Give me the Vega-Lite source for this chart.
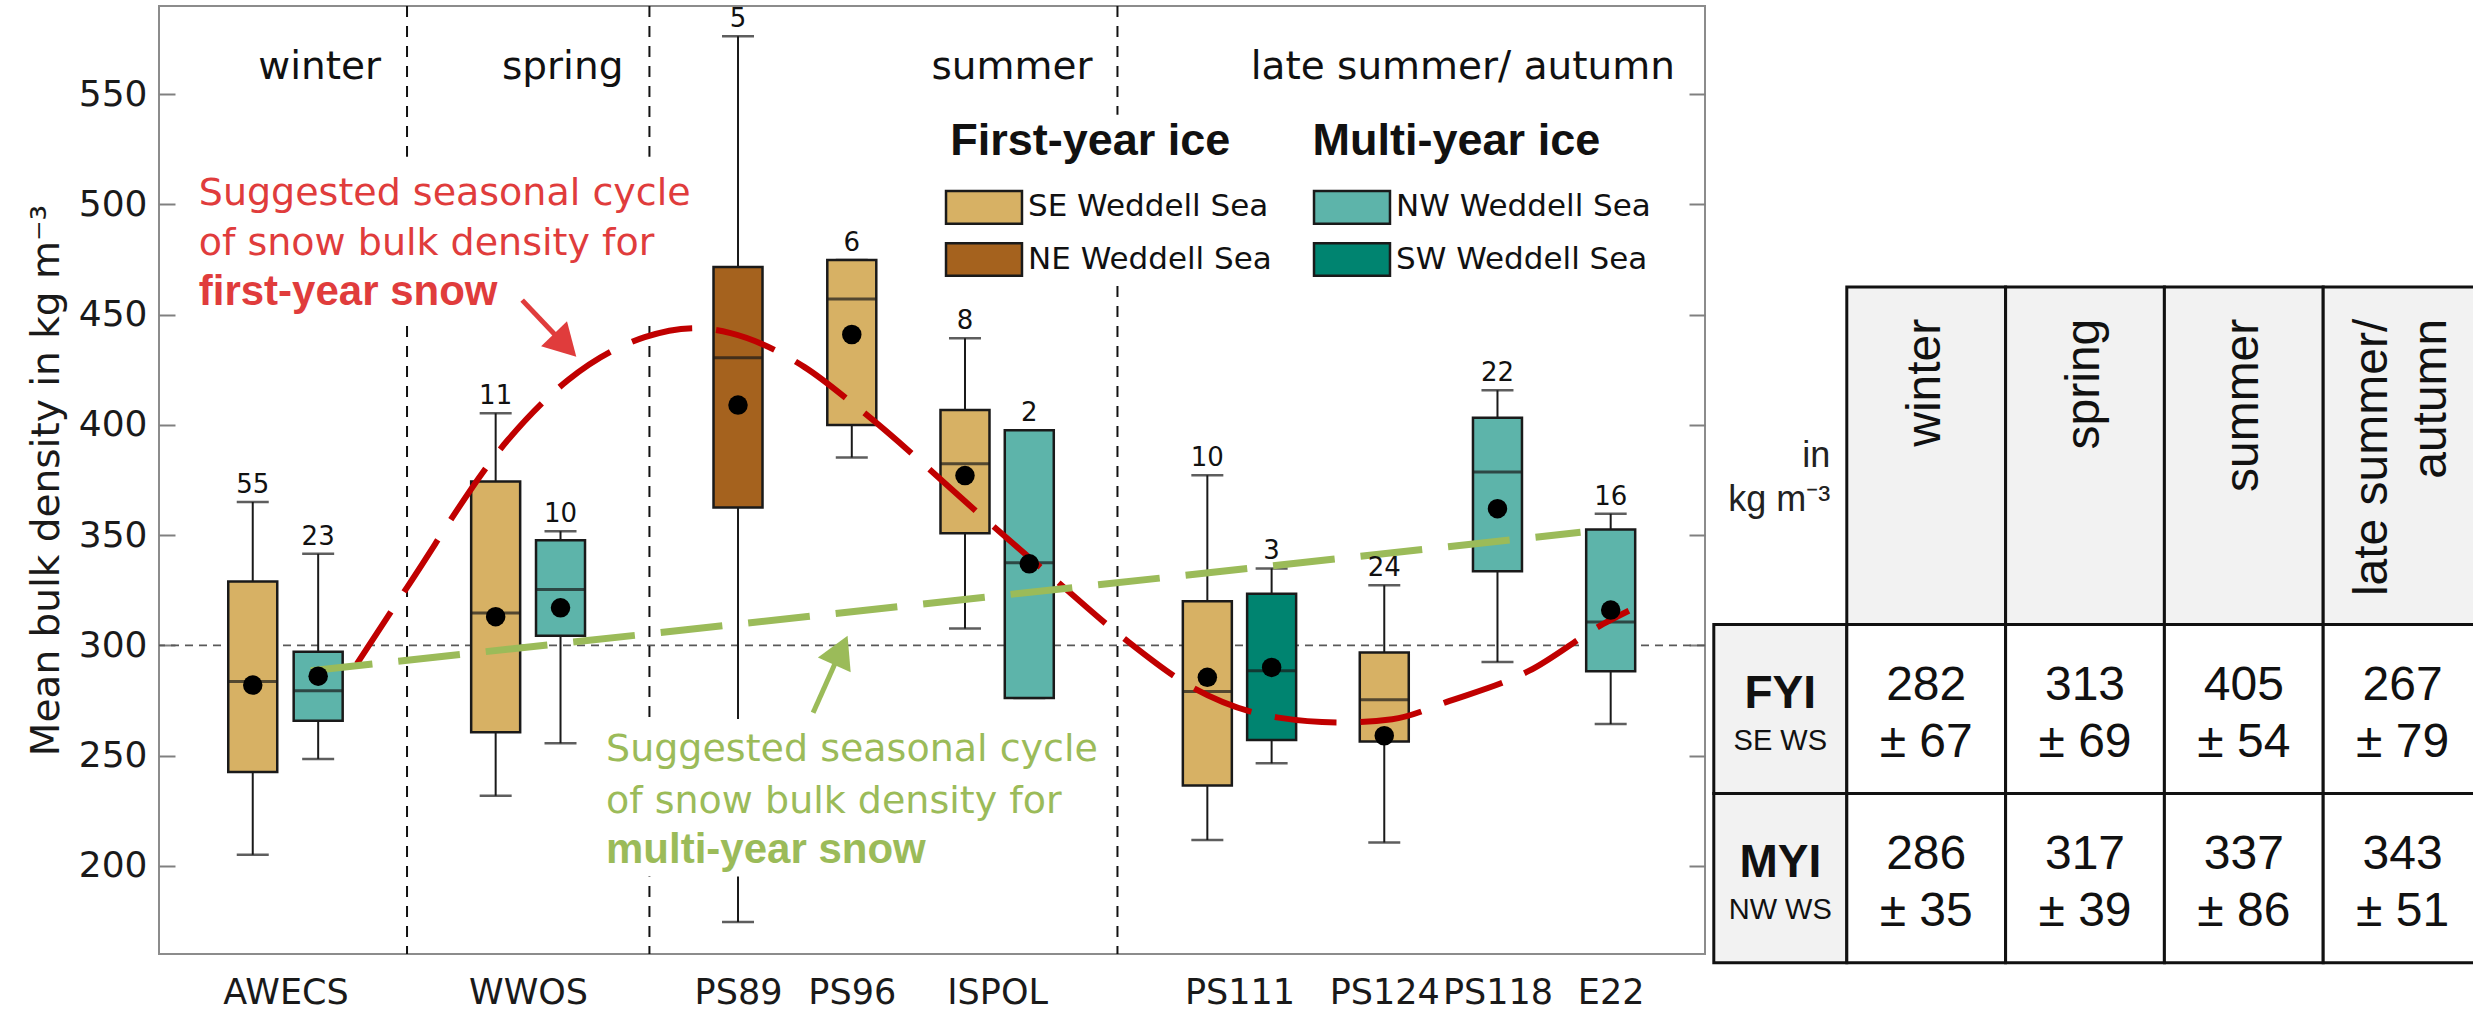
{
  "$schema": "https://vega.github.io/schema/vega-lite/v6.json",
  "width": 1546,
  "height": 948,
  "autosize": {"type": "none"},
  "padding": {"left": 159, "top": 6, "right": 768, "bottom": 57},
  "background": "white",
  "config": {
    "view": {"stroke": "#8c8c8c", "strokeWidth": 2},
    "font": "DejaVu Sans"
  },
  "datasets": {
    "boxes": [
      {"site": "AWECS", "region": "SE Weddell Sea", "ice": "FYI", "pos": 1.56, "wlo": 205, "q1": 242.5, "med": 283.6, "q3": 329, "whi": 365, "mean": 282, "n": 55},
      {"site": "AWECS", "region": "NW Weddell Sea", "ice": "MYI", "pos": 2.71, "wlo": 248.5, "q1": 265.8, "med": 279.4, "q3": 297.1, "whi": 341.5, "mean": 286, "n": 23},
      {"site": "WWOS", "region": "SE Weddell Sea", "ice": "FYI", "pos": 5.83, "wlo": 231.8, "q1": 260.6, "med": 314.7, "q3": 374.3, "whi": 405.3, "mean": 313, "n": 11},
      {"site": "WWOS", "region": "NW Weddell Sea", "ice": "MYI", "pos": 6.97, "wlo": 255.6, "q1": 304.4, "med": 325.3, "q3": 347.7, "whi": 351.8, "mean": 317, "n": 10},
      {"site": "PS89", "region": "NE Weddell Sea", "ice": "FYI", "pos": 10.09, "wlo": 174.5, "q1": 362.5, "med": 430.4, "q3": 471.6, "whi": 576.3, "mean": 409, "n": 5},
      {"site": "PS96", "region": "SE Weddell Sea", "ice": "FYI", "pos": 12.09, "wlo": 385.2, "q1": 400, "med": 457.1, "q3": 474.8, "whi": 474.8, "mean": 441, "n": 6},
      {"site": "ISPOL", "region": "SE Weddell Sea", "ice": "FYI", "pos": 14.08, "wlo": 307.6, "q1": 350.8, "med": 382.4, "q3": 406.8, "whi": 439.3, "mean": 377, "n": 8},
      {"site": "ISPOL", "region": "NW Weddell Sea", "ice": "MYI", "pos": 15.21, "wlo": 276.1, "q1": 276.1, "med": 337.5, "q3": 397.6, "whi": 397.6, "mean": 337, "n": 2},
      {"site": "PS111", "region": "SE Weddell Sea", "ice": "FYI", "pos": 18.34, "wlo": 211.7, "q1": 236.4, "med": 279.1, "q3": 320, "whi": 377.1, "mean": 285.5, "n": 10},
      {"site": "PS111", "region": "SW Weddell Sea", "ice": "MYI", "pos": 19.47, "wlo": 246.5, "q1": 257.1, "med": 288.5, "q3": 323.4, "whi": 334.9, "mean": 290, "n": 3},
      {"site": "PS124", "region": "SE Weddell Sea", "ice": "FYI", "pos": 21.45, "wlo": 210.6, "q1": 256.4, "med": 275.3, "q3": 296.8, "whi": 327.3, "mean": 259, "n": 24},
      {"site": "PS118", "region": "NW Weddell Sea", "ice": "MYI", "pos": 23.44, "wlo": 292.5, "q1": 333.6, "med": 378.6, "q3": 403.2, "whi": 415.7, "mean": 362, "n": 22},
      {"site": "E22", "region": "NW Weddell Sea", "ice": "MYI", "pos": 25.43, "wlo": 264.3, "q1": 288.2, "med": 310.6, "q3": 352.6, "whi": 359.7, "mean": 316, "n": 16}
    ],
    "fyiCycle": [
      {"pos": 3.39, "density": 291.6}, {"pos": 4.27, "density": 326.2}, {"pos": 6.04, "density": 393.0},
      {"pos": 7.10, "density": 420.3}, {"pos": 8.45, "density": 439.8}, {"pos": 9.35, "density": 443.9},
      {"pos": 9.96, "density": 441.6}, {"pos": 11.26, "density": 426.2}, {"pos": 12.21, "density": 407.5},
      {"pos": 14.52, "density": 355.3}, {"pos": 15.68, "density": 329.4}, {"pos": 16.88, "density": 303.0},
      {"pos": 18.08, "density": 280.9}, {"pos": 19.59, "density": 267.2}, {"pos": 20.69, "density": 265.0},
      {"pos": 21.59, "density": 266.5}, {"pos": 22.60, "density": 274.8}, {"pos": 24.00, "density": 288.5},
      {"pos": 25.30, "density": 309.7}, {"pos": 25.75, "density": 315.7}
    ],
    "myiCycle": [
      {"pos": 2.58, "density": 288.5}, {"pos": 24.9, "density": 351.3}
    ],
    "seasons": [
      {"season": "winter"}, {"season": "spring"}, {"season": "summer"}, {"season": "late summer/\nautumn"}
    ],
    "iceRows": [
      {"ice": "FYI", "region": "SE WS"}, {"ice": "MYI", "region": "NW WS"}
    ],
    "seasonMeans": [
      {"ice": "FYI", "season": "winter", "mean": 282, "sd": 67},
      {"ice": "FYI", "season": "spring", "mean": 313, "sd": 69},
      {"ice": "FYI", "season": "summer", "mean": 405, "sd": 54},
      {"ice": "FYI", "season": "late summer/\nautumn", "mean": 267, "sd": 79},
      {"ice": "MYI", "season": "winter", "mean": 286, "sd": 35},
      {"ice": "MYI", "season": "spring", "mean": 317, "sd": 39},
      {"ice": "MYI", "season": "summer", "mean": 337, "sd": 86},
      {"ice": "MYI", "season": "late summer/\nautumn", "mean": 343, "sd": 51}
    ]
  },
  "layer": [
    {
      "layer": [
        {
          "data": {"values": [{}]},
          "mark": {"type": "rule", "color": "#595959", "strokeWidth": 1.6, "strokeDash": [8, 6]},
          "encoding": {
            "y": {
              "datum": 300, "type": "quantitative",
              "scale": {"domain": [160, 590], "nice": false, "zero": false},
              "axis": {"orient": "right", "values": [200, 250, 300, 350, 400, 450, 500, 550], "tickSize": -16, "tickColor": "#808080", "tickWidth": 2, "labels": false, "domain": false, "grid": false, "title": null}
            }
          }
        },
        {
          "layer": [
            {
              "data": {"values": [{"boundary": 4.272}, {"boundary": 8.533}, {"boundary": 16.76}]},
              "mark": {"type": "rule", "color": "#111111", "strokeWidth": 2, "strokeDash": [11, 9]},
              "encoding": {
                "x": {"field": "boundary", "type": "quantitative", "scale": {"domain": [0, 27], "nice": false, "zero": false}}
              }
            },
            {
              "data": {"name": "boxes"},
              "mark": {"type": "rule", "color": "#1a1a1a", "strokeWidth": 2},
              "encoding": {
                "x": {
                  "field": "pos", "type": "quantitative",
                  "axis": {
                    "values": [2.135, 6.40, 10.09, 12.09, 14.645, 18.905, 21.45, 23.44, 25.43],
                    "labelExpr": "datum.value < 4 ? 'AWECS' : datum.value < 8 ? 'WWOS' : datum.value < 11 ? 'PS89' : datum.value < 13 ? 'PS96' : datum.value < 16 ? 'ISPOL' : datum.value < 20 ? 'PS111' : datum.value < 22.5 ? 'PS124' : datum.value < 24.5 ? 'PS118' : 'E22'",
                    "ticks": false, "domain": false, "grid": false, "title": null,
                    "labelFont": "DejaVu Sans", "labelFontSize": 35, "labelColor": "#1a1a1a",
                    "labelPadding": 21, "labelOverlap": false, "labelBound": false, "labelFlush": false
                  }
                },
                "y": {
                  "field": "wlo", "type": "quantitative",
                  "axis": {
                    "orient": "left", "values": [200, 250, 300, 350, 400, 450, 500, 550],
                    "tickSize": -16, "tickColor": "#808080", "tickWidth": 2, "domain": false, "grid": false,
                    "labelFont": "DejaVu Sans", "labelFontSize": 36, "labelColor": "#1a1a1a", "labelPadding": 28,
                    "title": "Mean bulk density in kg m⁻³", "titleFont": "DejaVu Sans", "titleFontSize": 39,
                    "titleFontWeight": "normal", "titleColor": "#1a1a1a", "titlePadding": 12
                  }
                },
                "y2": {"field": "whi"}
              }
            },
            {
              "data": {"name": "boxes"},
              "mark": {"type": "tick", "orient": "horizontal", "size": 32, "thickness": 2.5, "color": "#1a1a1a"},
              "encoding": {
                "x": {"field": "pos", "type": "quantitative"},
                "y": {"field": "wlo", "type": "quantitative"}
              }
            },
            {
              "data": {"name": "boxes"},
              "mark": {"type": "tick", "orient": "horizontal", "size": 32, "thickness": 2.5, "color": "#1a1a1a"},
              "encoding": {
                "x": {"field": "pos", "type": "quantitative"},
                "y": {"field": "whi", "type": "quantitative"}
              }
            },
            {
              "data": {"name": "boxes"},
              "mark": {"type": "bar", "width": 49, "stroke": "#1a1a1a", "strokeWidth": 2.5, "opacity": 1},
              "encoding": {
                "x": {"field": "pos", "type": "quantitative"},
                "y": {"field": "q1", "type": "quantitative"},
                "y2": {"field": "q3"},
                "color": {
                  "field": "region", "type": "nominal",
                  "scale": {
                    "domain": ["SE Weddell Sea", "NE Weddell Sea", "NW Weddell Sea", "SW Weddell Sea"],
                    "range": ["#D7B164", "#A5621E", "#5DB4AA", "#008470"]
                  },
                  "legend": {
                    "orient": "none", "legendX": 807, "legendY": 183, "columns": 2, "title": null,
                    "padding": 0, "symbolType": "M-2.33,-1H2.33V1H-2.33Z", "symbolSize": 1063,
                    "symbolStrokeColor": "#1a1a1a", "symbolStrokeWidth": 2.5, "symbolOpacity": 1,
                    "labelFont": "DejaVu Sans", "labelFontSize": 31, "labelColor": "#111111",
                    "labelOffset": 26, "labelLimit": 500, "rowPadding": 8.5, "columnPadding": 37
                  }
                }
              }
            },
            {
              "data": {"name": "boxes"},
              "mark": {"type": "tick", "orient": "horizontal", "size": 49, "thickness": 3, "color": "#1a1a1a"},
              "encoding": {
                "x": {"field": "pos", "type": "quantitative"},
                "y": {"field": "med", "type": "quantitative"}
              }
            },
            {
              "data": {"values": [{}]},
              "mark": {"type": "rect", "color": "white"},
              "encoding": {"x": {"datum": 0.45}, "x2": {"datum": 9.36}, "y": {"datum": 446.6}, "y2": {"datum": 521.6}}
            },
            {
              "data": {"values": [{}]},
              "mark": {"type": "rect", "color": "white"},
              "encoding": {"x": {"datum": 7.61}, "x2": {"datum": 16.52}, "y": {"datum": 195.2}, "y2": {"datum": 266.6}}
            },
            {
              "data": {"values": [{}]},
              "mark": {"type": "rect", "color": "white"},
              "encoding": {"x": {"datum": 13.7}, "x2": {"datum": 26.7}, "y": {"datum": 464.4}, "y2": {"datum": 540.7}}
            },
            {
              "data": {"values": [{}]},
              "mark": {"type": "text", "text": "Suggested seasonal cycle", "align": "left", "baseline": "alphabetic", "font": "DejaVu Sans", "fontSize": 38, "color": "#E03C3C"},
              "encoding": {"x": {"datum": 0.611}, "y": {"datum": 499.8}}
            },
            {
              "data": {"values": [{}]},
              "mark": {"type": "text", "text": "of snow bulk density for", "align": "left", "baseline": "alphabetic", "font": "DejaVu Sans", "fontSize": 38, "color": "#E03C3C"},
              "encoding": {"x": {"datum": 0.611}, "y": {"datum": 477.1}}
            },
            {
              "data": {"values": [{}]},
              "mark": {"type": "text", "text": "first-year snow", "align": "left", "baseline": "alphabetic", "font": "Liberation Sans", "fontWeight": "bold", "fontSize": 42, "color": "#E03C3C"},
              "encoding": {"x": {"datum": 0.611}, "y": {"datum": 454.4}}
            },
            {
              "data": {"values": [{}]},
              "mark": {"type": "text", "text": "Suggested seasonal cycle", "align": "left", "baseline": "alphabetic", "font": "DejaVu Sans", "fontSize": 38, "color": "#9BBB59"},
              "encoding": {"x": {"datum": 7.77}, "y": {"datum": 247.5}}
            },
            {
              "data": {"values": [{}]},
              "mark": {"type": "text", "text": "of snow bulk density for", "align": "left", "baseline": "alphabetic", "font": "DejaVu Sans", "fontSize": 38, "color": "#9BBB59"},
              "encoding": {"x": {"datum": 7.77}, "y": {"datum": 224.0}}
            },
            {
              "data": {"values": [{}]},
              "mark": {"type": "text", "text": "multi-year snow", "align": "left", "baseline": "alphabetic", "font": "Liberation Sans", "fontWeight": "bold", "fontSize": 42, "color": "#9BBB59"},
              "encoding": {"x": {"datum": 7.77}, "y": {"datum": 201.3}}
            },
            {
              "data": {"values": [{}]},
              "mark": {"type": "text", "text": "winter", "align": "right", "baseline": "alphabetic", "dx": -26, "font": "DejaVu Sans", "fontSize": 39, "color": "#111111"},
              "encoding": {"x": {"datum": 4.272}, "y": {"datum": 557.1}}
            },
            {
              "data": {"values": [{}]},
              "mark": {"type": "text", "text": "spring", "align": "right", "baseline": "alphabetic", "dx": -26, "font": "DejaVu Sans", "fontSize": 39, "color": "#111111"},
              "encoding": {"x": {"datum": 8.533}, "y": {"datum": 557.1}}
            },
            {
              "data": {"values": [{}]},
              "mark": {"type": "text", "text": "summer", "align": "right", "baseline": "alphabetic", "dx": -25, "font": "DejaVu Sans", "fontSize": 39, "color": "#111111"},
              "encoding": {"x": {"datum": 16.76}, "y": {"datum": 557.1}}
            },
            {
              "data": {"values": [{}]},
              "mark": {"type": "text", "text": "late summer/ autumn", "align": "right", "baseline": "alphabetic", "dx": -25, "font": "DejaVu Sans", "fontSize": 39, "color": "#111111"},
              "encoding": {"x": {"datum": 27}, "y": {"datum": 557.1}}
            },
            {
              "data": {"values": [{}]},
              "mark": {"type": "text", "text": "First-year ice", "align": "left", "baseline": "alphabetic", "font": "Liberation Sans", "fontWeight": "bold", "fontSize": 45, "color": "#111111"},
              "encoding": {"x": {"datum": 13.82}, "y": {"datum": 522.5}}
            },
            {
              "data": {"values": [{}]},
              "mark": {"type": "text", "text": "Multi-year ice", "align": "left", "baseline": "alphabetic", "font": "Liberation Sans", "fontWeight": "bold", "fontSize": 45, "color": "#111111"},
              "encoding": {"x": {"datum": 20.19}, "y": {"datum": 522.5}}
            },
            {
              "data": {"name": "fyiCycle"},
              "mark": {"type": "line", "color": "#C00000", "strokeWidth": 6, "strokeDash": [62, 24], "strokeCap": "butt", "interpolate": "monotone"},
              "encoding": {
                "x": {"field": "pos", "type": "quantitative"},
                "y": {"field": "density", "type": "quantitative"}
              }
            },
            {
              "data": {"name": "myiCycle"},
              "mark": {"type": "line", "color": "#9BBB59", "strokeWidth": 7, "strokeDash": [62, 26], "strokeCap": "butt"},
              "encoding": {
                "x": {"field": "pos", "type": "quantitative"},
                "y": {"field": "density", "type": "quantitative"}
              }
            },
            {
              "data": {"values": [{}]},
              "mark": {"type": "rule", "color": "#E03C3C", "strokeWidth": 5},
              "encoding": {"x": {"datum": 6.296}, "y": {"datum": 456.6}, "x2": {"datum": 7.003}, "y2": {"datum": 437.4}}
            },
            {
              "data": {"values": [{}]},
              "mark": {"type": "point", "shape": "M0,-1L0.9,0.6L-0.9,0.6Z", "size": 1600, "angle": 136, "filled": true, "color": "#E03C3C", "opacity": 1, "strokeWidth": 0},
              "encoding": {"x": {"datum": 7.003}, "y": {"datum": 437.4}}
            },
            {
              "data": {"values": [{}]},
              "mark": {"type": "rule", "color": "#9BBB59", "strokeWidth": 5},
              "encoding": {"x": {"datum": 11.41}, "y": {"datum": 269.4}, "x2": {"datum": 11.87}, "y2": {"datum": 296.1}}
            },
            {
              "data": {"values": [{}]},
              "mark": {"type": "point", "shape": "M0,-1L0.9,0.6L-0.9,0.6Z", "size": 1600, "angle": 24.5, "filled": true, "color": "#9BBB59", "opacity": 1, "strokeWidth": 0},
              "encoding": {"x": {"datum": 11.87}, "y": {"datum": 296.1}}
            },
            {
              "data": {"name": "boxes"},
              "mark": {"type": "point", "filled": true, "size": 380, "color": "#000000", "opacity": 1},
              "encoding": {
                "x": {"field": "pos", "type": "quantitative"},
                "y": {"field": "mean", "type": "quantitative"}
              }
            },
            {
              "data": {"name": "boxes"},
              "mark": {"type": "text", "baseline": "alphabetic", "dy": -9, "font": "DejaVu Sans", "fontSize": 26, "color": "#111111"},
              "encoding": {
                "x": {"field": "pos", "type": "quantitative"},
                "y": {"field": "whi", "type": "quantitative"},
                "text": {"field": "n"}
              }
            }
          ]
        }
      ],
      "resolve": {"axis": {"y": "independent"}}
    },
    {
      "layer": [
        {
          "data": {"name": "seasons"},
          "encoding": {
            "x": {"field": "season", "type": "nominal", "sort": null, "axis": null,
                  "scale": {"domain": ["winter", "spring", "summer", "late summer/\nautumn"], "range": [1687.8, 2323], "paddingInner": 0, "paddingOuter": 0}},
            "y": {"datum": "header", "type": "nominal", "axis": null,
                  "scale": {"domain": ["header"], "range": [281, 618.4], "paddingInner": 0, "paddingOuter": 0}}
          },
          "layer": [
            {"mark": {"type": "rect", "fill": "#F2F2F2", "stroke": "#111111", "strokeWidth": 3}},
            {
              "transform": [{"filter": "indexof(datum.season, '/') < 0"}],
              "mark": {"type": "text", "angle": 270, "align": "right", "baseline": "middle", "dx": 137, "font": "Liberation Sans", "fontSize": 48, "color": "#111111"},
              "encoding": {"text": {"field": "season"}}
            },
            {
              "transform": [{"filter": "indexof(datum.season, '/') >= 0"}],
              "mark": {"type": "text", "angle": 270, "align": "right", "baseline": "middle", "dx": 137, "dy": -29.5, "font": "Liberation Sans", "fontSize": 48, "lineBreak": "\n", "lineHeight": 59, "color": "#111111"},
              "encoding": {"text": {"field": "season"}}
            }
          ]
        },
        {
          "data": {"name": "iceRows"},
          "encoding": {
            "x": {"datum": "label", "type": "nominal", "axis": null,
                  "scale": {"domain": ["label"], "range": [1554.8, 1687.8], "paddingInner": 0, "paddingOuter": 0}},
            "y": {"field": "ice", "type": "nominal", "axis": null,
                  "scale": {"domain": ["FYI", "MYI"], "range": [618.4, 956.8], "paddingInner": 0, "paddingOuter": 0}}
          },
          "layer": [
            {"mark": {"type": "rect", "fill": "#F2F2F2", "stroke": "#111111", "strokeWidth": 3}},
            {
              "mark": {"type": "text", "dy": -15, "font": "Liberation Sans", "fontWeight": "bold", "fontSize": 46, "color": "#111111"},
              "encoding": {"text": {"field": "ice"}}
            },
            {
              "mark": {"type": "text", "dy": 31.5, "font": "Liberation Sans", "fontSize": 29, "color": "#111111"},
              "encoding": {"text": {"field": "region"}}
            }
          ]
        },
        {
          "data": {"name": "seasonMeans"},
          "encoding": {
            "x": {"field": "season", "type": "nominal", "sort": null, "axis": null,
                  "scale": {"domain": ["winter", "spring", "summer", "late summer/\nautumn"], "range": [1687.8, 2323], "paddingInner": 0, "paddingOuter": 0}},
            "y": {"field": "ice", "type": "nominal", "axis": null,
                  "scale": {"domain": ["FYI", "MYI"], "range": [618.4, 956.8], "paddingInner": 0, "paddingOuter": 0}}
          },
          "layer": [
            {"mark": {"type": "rect", "fill": "white", "stroke": "#111111", "strokeWidth": 3}},
            {
              "mark": {"type": "text", "dy": -23, "font": "Liberation Sans", "fontSize": 48, "color": "#111111"},
              "encoding": {"text": {"field": "mean"}}
            },
            {
              "transform": [{"calculate": "'± ' + datum.sd", "as": "spread"}],
              "mark": {"type": "text", "dy": 34, "font": "Liberation Sans", "fontSize": 48, "color": "#111111"},
              "encoding": {"text": {"field": "spread"}}
            }
          ]
        },
        {
          "data": {"values": [{}]},
          "mark": {"type": "text", "text": ["in", "kg m⁻³"], "align": "right", "baseline": "middle", "dx": 50, "lineHeight": 44, "font": "Liberation Sans", "fontSize": 36, "color": "#222222"},
          "encoding": {
            "x": {"datum": "label", "type": "nominal", "axis": null,
                  "scale": {"domain": ["label"], "range": [1554.8, 1687.8], "paddingInner": 0, "paddingOuter": 0}},
            "y": {"datum": "header", "type": "nominal", "axis": null,
                  "scale": {"domain": ["header"], "range": [281, 618.4], "paddingInner": 0, "paddingOuter": 0}}
          }
        }
      ],
      "resolve": {"scale": {"x": "independent", "y": "independent"}}
    }
  ],
  "resolve": {"scale": {"x": "independent", "y": "independent"}}
}
